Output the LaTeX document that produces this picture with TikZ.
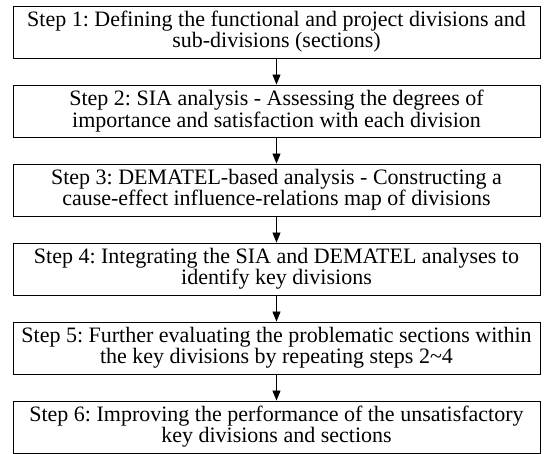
\documentclass[tikz,border=0pt]{standalone}
\usepackage{fontspec}
\setmainfont{Liberation Serif}
\usetikzlibrary{arrows.meta}
\begin{document}
\frenchspacing
\begin{tikzpicture}[x=1pt,y=-1pt,
  stepbox/.style={draw, line width=0.9pt, minimum width=527pt, minimum height=52pt, inner sep=0pt, align=center, font=\fontsize{22}{20}\selectfont},
  flow/.style={line width=0.9pt, -{Triangle[length=10pt,width=8pt]}}]
\useasboundingbox (0,0) rectangle (544,454);
\node[stepbox] (s1) at (276.5,32) {Step 1: Defining the functional and project divisions and\\sub-divisions (sections)};
\node[stepbox] (s2) at (276.5,111) {Step 2: SIA analysis - Assessing the degrees of\\importance and satisfaction with each division};
\node[stepbox] (s3) at (276.5,190) {Step 3: DEMATEL-based analysis - Constructing a\\cause-effect influence-relations map of divisions};
\node[stepbox] (s4) at (276.5,269) {Step 4: Integrating the SIA and DEMATEL analyses to\\identify key divisions};
\node[stepbox] (s5) at (276.5,348) {Step 5: Further evaluating the problematic sections within\\the key divisions by repeating steps 2\textasciitilde 4};
\node[stepbox] (s6) at (276.5,427) {Step 6: Improving the performance of the unsatisfactory\\key divisions and sections};
\draw[flow] (s1) -- (s2);
\draw[flow] (s2) -- (s3);
\draw[flow] (s3) -- (s4);
\draw[flow] (s4) -- (s5);
\draw[flow] (s5) -- (s6);
\end{tikzpicture}
\end{document}
